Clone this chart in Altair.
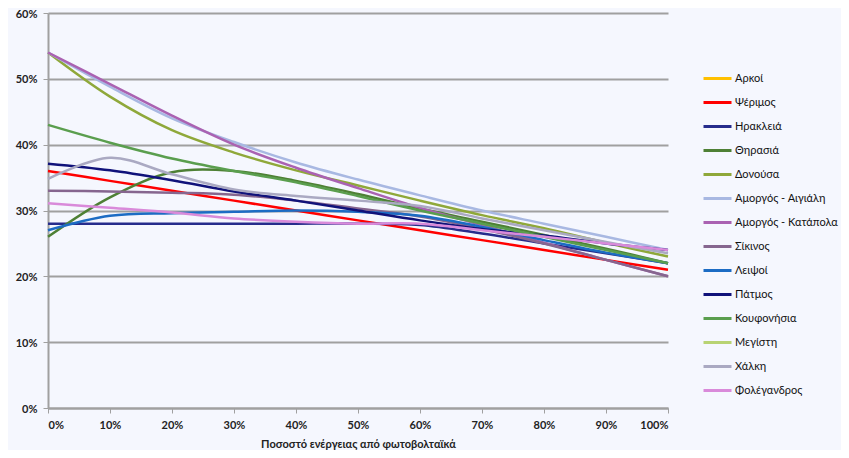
import altair as alt
import pandas as pd

x_pct = [0, 10, 20, 30, 40, 50, 60, 70, 80, 90, 100]

names = ["Αρκοί", "Ψέριμος", "Ηρακλειά", "Θηρασιά", "Δονούσα",
         "Αμοργός - Αιγιάλη", "Αμοργός - Κατάπολα", "Σίκινος", "Λειψοί",
         "Πάτμος", "Κουφονήσια", "Μεγίστη", "Χάλκη", "Φολέγανδρος"]

colors = ["#FFC000", "#FF0000", "#262C8C", "#4E8035", "#8FA83A",
          "#A8B8E2", "#AA62B2", "#86668F", "#1C6CC4",
          "#10127A", "#5A9E4E", "#B8D373", "#AAA9C2", "#D98ADA"]

# values in %, at 0,10,...,100 % PV share
psérimos = [36, 34.5, 33, 31.5, 30, 28.5, 27, 25.5, 24, 22.5, 21]
irakleia = [28, 28, 28, 28, 28, 28, 27.8, 26.5, 25, 23.5, 22]
thirasia = [26, 32, 35.8, 36, 34.5, 32.5, 30.3, 28.3, 26.3, 24.2, 22]
donousa = [54, 47.3, 42.2, 38.8, 36.1, 33.8, 31.5, 29.3, 27.3, 25.1, 23]
aigiali = [54, 48.8, 44, 40.4, 37.3, 34.7, 32.3, 30, 28, 26, 24]
katapola = [54, 49.2, 44.4, 40, 36.5, 33.4, 30.4, 27.8, 25.1, 22.5, 20]
sikinos = [33, 32.9, 32.7, 32.4, 31.5, 30.3, 29.1, 27.2, 25, 22.5, 20]
leipsoi = [27, 29.2, 29.6, 29.8, 30, 29.8, 29.2, 27.5, 25.5, 23.6, 22]
patmos = [37.1, 36.1, 34.6, 32.9, 31.5, 30, 28.5, 27.2, 26.2, 25, 24]
koufonisia = [43, 40.3, 37.9, 36, 34.3, 32.2, 30, 28, 26, 24, 22]
chalki = [34.8, 38, 35.5, 33.2, 32.2, 31.5, 30.7, 28.8, 27, 25.2, 23.5]
folegandros = [31.1, 30.4, 29.7, 28.8, 28.3, 28, 28, 27, 26, 25, 24]

series = {
    "Ψέριμος": psérimos,
    "Ηρακλειά": irakleia,
    "Θηρασιά": thirasia,
    "Δονούσα": donousa,
    "Αμοργός - Αιγιάλη": aigiali,
    "Αμοργός - Κατάπολα": katapola,
    "Σίκινος": sikinos,
    "Λειψοί": leipsoi,
    "Πάτμος": patmos,
    "Κουφονήσια": koufonisia,
    "Χάλκη": chalki,
    "Φολέγανδρος": folegandros,
}

rows = []
for name, vals in series.items():
    order = names.index(name)
    for xp, v in zip(x_pct, vals):
        rows.append({"island": name, "order": order, "x": xp / 100, "y": v / 100})
df = pd.DataFrame(rows)

font = "Lato"

chart = alt.Chart(df).mark_line(
    interpolate="catmull-rom", strokeWidth=2.5
).encode(
    x=alt.X("x:Q", scale=alt.Scale(domain=[0, 1], nice=False),
            axis=alt.Axis(format=".0%", values=[i / 10 for i in range(11)],
                          title="Ποσοστό ενέργειας από φωτοβολταϊκά",
                          grid=False, domainColor="#A0A0A0", domainWidth=2,
                          tickColor="#A0A0A0", tickWidth=1, tickSize=5,
                          labelPadding=6, titlePadding=8)),
    y=alt.Y("y:Q", scale=alt.Scale(domain=[0, 0.6], nice=False),
            axis=alt.Axis(format=".0%", values=[i / 10 for i in range(7)],
                          title=None, grid=True, gridColor="#A0A0A0",
                          gridWidth=2, domainColor="#A0A0A0", domainWidth=2,
                          tickColor="#A0A0A0", tickWidth=1, tickSize=5,
                          labelPadding=6, labelOffset=1)),
    color=alt.Color("island:N",
                    scale=alt.Scale(domain=names, range=colors),
                    sort=names,
                    legend=alt.Legend(title=None, orient="none",
                                      legendX=654, legendY=50,
                                      symbolType="stroke", symbolSize=784,
                                      symbolStrokeWidth=3, rowPadding=2,
                                      labelFontSize=11, labelColor="#111",
                                      labelFont=font, labelOffset=2)),
    order=alt.Order("order:Q"),
    detail="island:N",
).properties(
    width=620, height=395,
    padding={"left": 40, "top": 5, "right": 173, "bottom": 42},
    autosize=alt.AutoSizeParams(type="none"),
    background="#F5F7FE",
).configure_view(
    stroke=None
).configure_axis(
    labelFont=font, labelFontSize=11, labelFontWeight="bold",
    labelColor="#222", titleFont=font, titleFontSize=11,
    titleFontWeight="bold", titleColor="#222"
)

chart.save("out.html", embed_options={"renderer": "svg", "actions": False})
